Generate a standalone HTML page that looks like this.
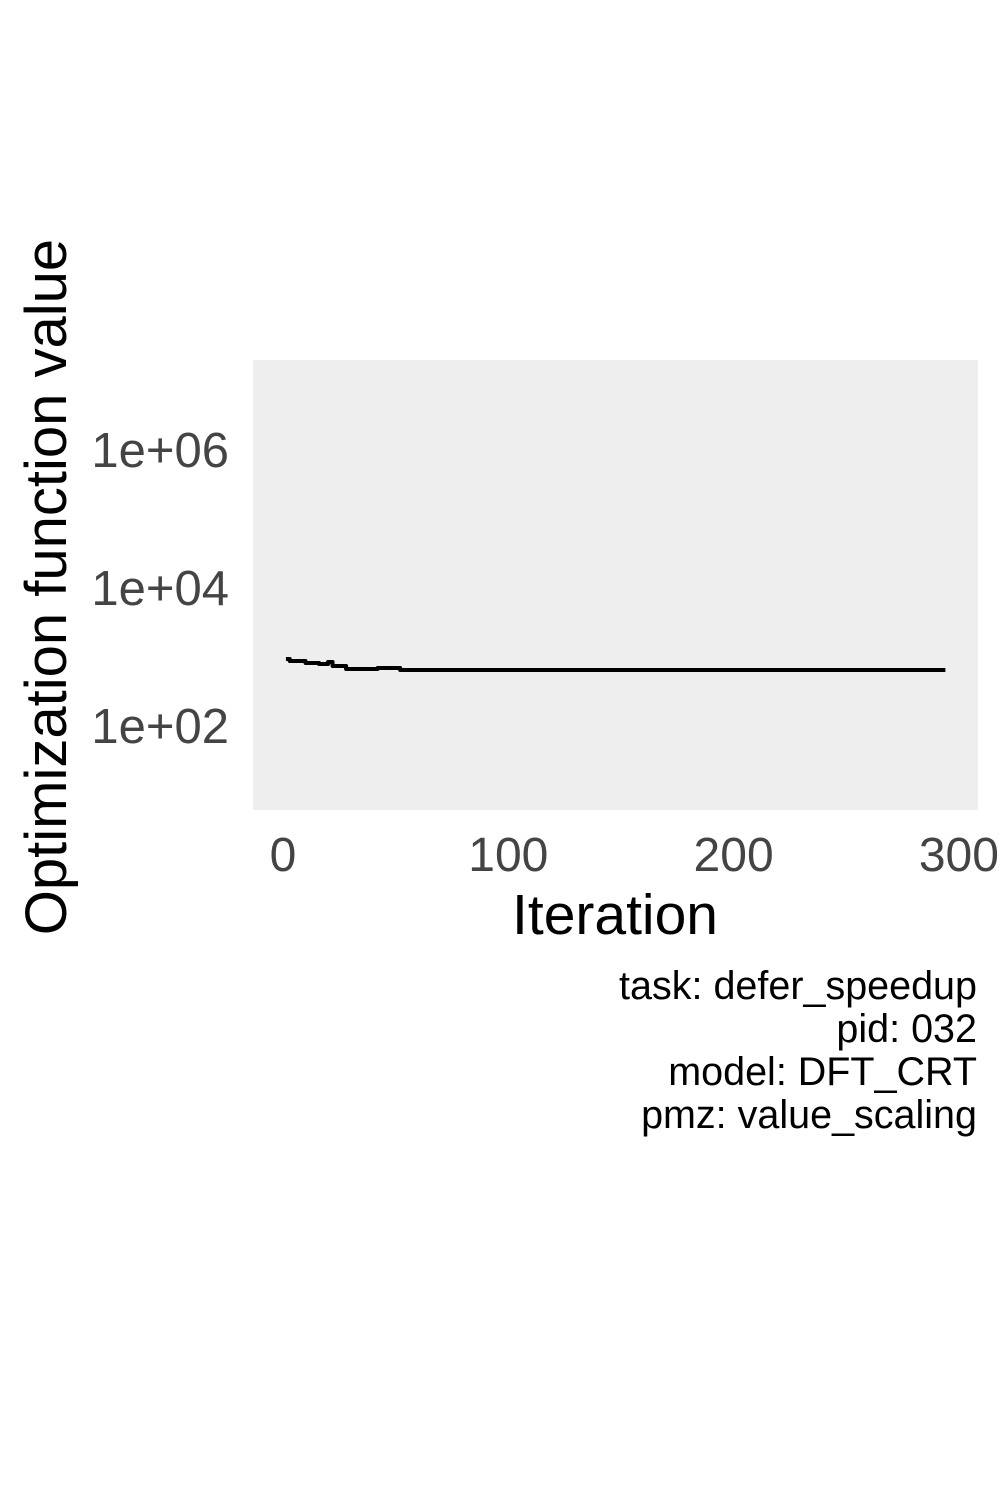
<!DOCTYPE html>
<html><head><meta charset="utf-8"><style>
body{margin:0;background:#fff;}
svg text{font-family:"Liberation Sans",Arial,sans-serif;}
</style></head><body>
<svg id="chart" width="1003" height="1499" viewBox="0 0 1003 1499" xmlns="http://www.w3.org/2000/svg">
<rect x="0" y="0" width="1003" height="1499" fill="#fff"/>
<rect x="253" y="360" width="725" height="450" fill="#eeeeee"/>
<g id="xticks"></g>
<g id="yticks"></g>
<path id="line" fill="none" stroke="#000" stroke-width="4" stroke-linejoin="round"/>
<text x="615" y="934" font-size="57" text-anchor="middle" fill="#000">Iteration</text>
<text transform="translate(66,587) rotate(-90)" font-size="58" text-anchor="middle" fill="#000">Optimization function value</text>
<g font-size="39.5" text-anchor="end" fill="#000">
<text x="977" y="999">task: defer_speedup</text>
<text x="977" y="1042">pid: 032</text>
<text x="977" y="1085">model: DFT_CRT</text>
<text x="977" y="1128">pmz: value_scaling</text>
</g>
</svg>
<script>
const iterations = [1.3, 3, 10, 16, 20, 22, 28, 42, 52, 294];
const values = [935, 875, 818, 792, 847, 741, 670, 692, 649, 649];
const xTicks = [0, 100, 200, 300];
const yTicks = [100, 10000, 1000000];
const yTickLabels = ["1e+02", "1e+04", "1e+06"];

function xScale(v){ return 283 + v * 2.253; }
function yScale(v){ return 726 - (Math.log10(v) - 2) * 69; }

const NS = "http://www.w3.org/2000/svg";
const xg = document.getElementById('xticks');
xTicks.forEach(t => {
  const el = document.createElementNS(NS, 'text');
  
  
  el.setAttribute('x', xScale(t));
  el.setAttribute('y', 871);
  el.setAttribute('font-size', '48');
  el.setAttribute('text-anchor', 'middle');
  el.setAttribute('fill', '#444');
  el.textContent = t;
  xg.appendChild(el);
});
const yg = document.getElementById('yticks');
yTicks.forEach((t, i) => {
  const el = document.createElementNS(NS, 'text');
  
  
  el.setAttribute('x', 229);
  el.setAttribute('y', yScale(t) + 17);
  el.setAttribute('font-size', '49');
  el.setAttribute('text-anchor', 'end');
  el.setAttribute('fill', '#444');
  el.textContent = yTickLabels[i];
  yg.appendChild(el);
});
let d = '';
iterations.forEach((it, i) => {
  const x = xScale(it), y = yScale(values[i]);
  if (i === 0) d += 'M' + x + ',' + y;
  else d += ' H' + x + ' V' + y;
});
document.getElementById('line').setAttribute('d', d);
</script>
</body></html>
